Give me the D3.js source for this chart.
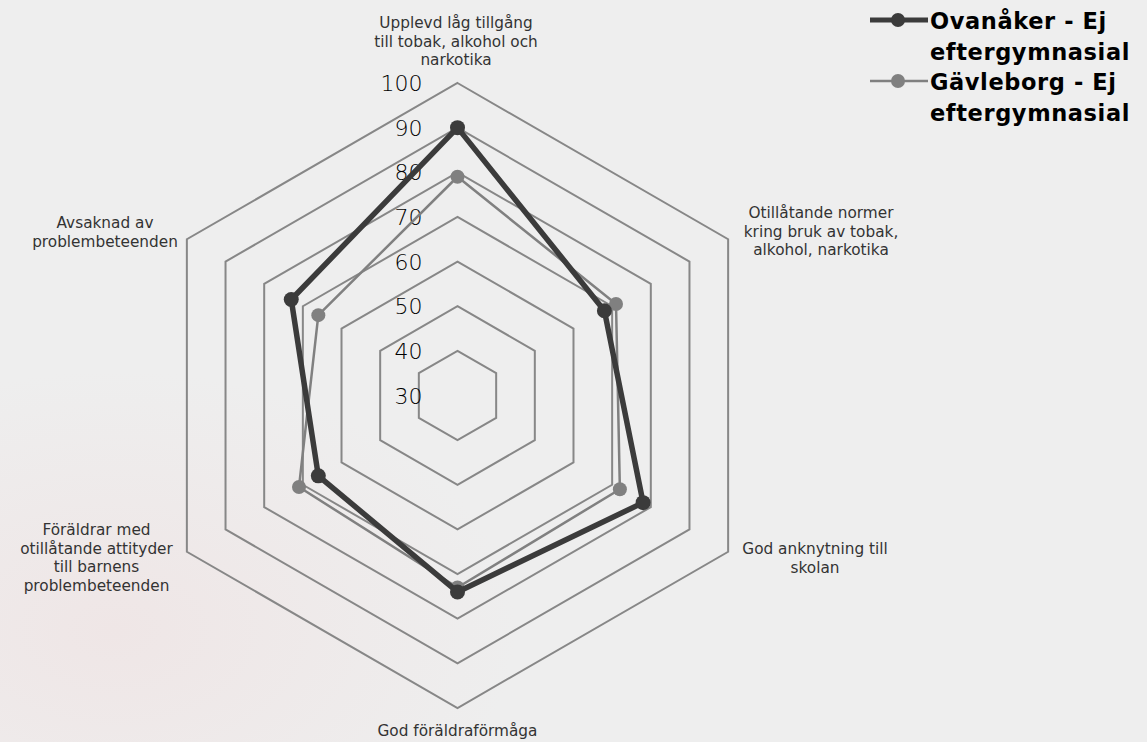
<!DOCTYPE html>
<html><head><meta charset="utf-8">
<script src="https://cdn.jsdelivr.net/npm/d3@7"></script>
<style>html,body{margin:0;padding:0;background:#eeeeee;}svg{display:block;}</style>
</head><body>
<svg id="c" width="1147" height="742"></svg>
<script>
const axes = [
  ["Upplevd låg tillgång","till tobak, alkohol och","narkotika"],
  ["Otillåtande normer","kring bruk av tobak,","alkohol, narkotika"],
  ["God anknytning till","skolan"],
  ["God föräldraförmåga"],
  ["Föräldrar med","otillåtande attityder","till barnens","problembeteenden"],
  ["Avsaknad av","problembeteenden"]
];
const ovanaker = [90, 68, 78, 74, 66, 73];
const gavleborg = [79, 71, 72, 73, 71, 66];
const ticks = [30, 40, 50, 60, 70, 80, 90, 100];
const seriesNames = [["Ovanåker - Ej","eftergymnasial"],["Gävleborg - Ej","eftergymnasial"]];

const svg = d3.select("#c");
const W = 1147, H = 742;
const cx = 457.5, cy = 395.5;
const defs = svg.append("defs");
const g1 = defs.append("radialGradient").attr("id","bg1").attr("cx","0.1").attr("cy","0.85").attr("r","0.35");
g1.append("stop").attr("offset","0").attr("stop-color","#efe6e6");
g1.append("stop").attr("offset","1").attr("stop-color","#eeeeee");
svg.append("rect").attr("width",W).attr("height",H).attr("fill","#eeeeee");
svg.append("rect").attr("width",W).attr("height",H).attr("fill","url(#bg1)");

const r = d3.scaleLinear().domain([30, 100]).range([0, 312.5]);
const n = axes.length;
const ang = i => -Math.PI/2 + i * 2*Math.PI/n;
const pt = (v, i) => [cx + r(v)*Math.cos(ang(i)), cy + r(v)*Math.sin(ang(i))];

// grid hexagons
ticks.slice(1).forEach(t => {
  svg.append("polygon")
    .attr("points", d3.range(n).map(i => pt(t, i).join(",")).join(" "))
    .attr("fill","none").attr("stroke","#878787").attr("stroke-width",2);
});

// tick labels
svg.selectAll("text.tick").data(ticks).enter().append("text")
  .attr("class","tick")
  .attr("x", cx - 35).attr("y", d => cy - r(d) + 8)
  .attr("text-anchor","end")
  .attr("font-family","'DejaVu Sans', sans-serif").attr("font-weight",200)
  .attr("font-size",22).attr("fill","#000")
  .text(d => d);

// series
const line = d3.line().curve(d3.curveLinearClosed);
function drawSeries(vals, color, width, rad) {
  const pts = vals.map((v,i) => pt(v,i));
  svg.append("path").attr("d", line(pts)).attr("fill","none")
    .attr("stroke",color).attr("stroke-width",width).attr("stroke-linejoin","round");
  svg.selectAll(null).data(pts).enter().append("circle")
    .attr("cx", d=>d[0]).attr("cy", d=>d[1]).attr("r", rad).attr("fill", color);
}
drawSeries(gavleborg, "#808080", 2.5, 7);
drawSeries(ovanaker, "#3b3b3b", 5.5, 7.5);

// axis labels
const labelPos = [
  {x:456, y:28}, {x:821, y:218}, {x:815, y:554},
  {x:457.5, y:736}, {x:96.5, y:535}, {x:105, y:228}
];
axes.forEach((lines, i) => {
  const t = svg.append("text").attr("text-anchor","middle")
    .attr("font-family","'DejaVu Sans', sans-serif").attr("font-size",15.3).attr("fill","#333");
  lines.forEach((l, k) => {
    t.append("tspan").attr("x", labelPos[i].x).attr("y", labelPos[i].y + k*18.7).text(l);
  });
});

// legend
const legColors = ["#3b3b3b", "#808080"];
const legW = [5, 2.5];
seriesNames.forEach((nm, i) => {
  const y0 = 20 + i*61;
  svg.append("line").attr("x1", 870).attr("x2", 928).attr("y1", y0).attr("y2", y0)
    .attr("stroke", legColors[i]).attr("stroke-width", legW[i]);
  svg.append("circle").attr("cx", 898).attr("cy", y0).attr("r", 7).attr("fill", legColors[i]);
  const t = svg.append("text").attr("font-family","'DejaVu Sans', sans-serif").attr("font-weight",700)
    .attr("font-size",22.5).attr("letter-spacing",0.6).attr("fill","#000");
  nm.forEach((l, k) => {
    t.append("tspan").attr("x", 930).attr("y", y0 + 9 + k*31).text(l);
  });
});
</script>
</body></html>
